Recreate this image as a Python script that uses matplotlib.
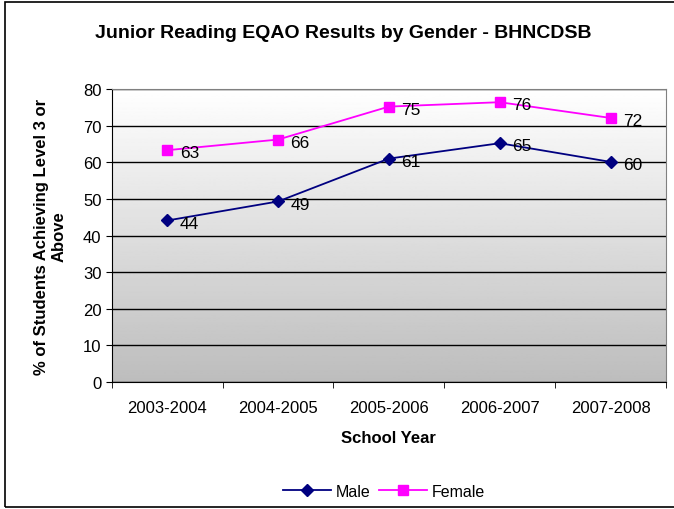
import numpy as np
import matplotlib.pyplot as plt
from matplotlib.patches import Rectangle

plt.rcParams['font.family'] = ['Liberation Sans', 'DejaVu Sans']

years = ["2003-2004", "2004-2005", "2005-2006", "2006-2007", "2007-2008"]
male = [44.1, 49.3, 61.0, 65.2, 60.1]
female = [63.3, 66.2, 75.2, 76.4, 72.1]

fig = plt.figure(figsize=(6.74, 5.10), dpi=100)
ax = fig.add_axes([0.166, 0.249, 0.822, 0.5745])

x = np.arange(len(years))

# background gradient like the Excel plot area
grad = np.linspace(1.0, 0.74, 256).reshape(-1, 1)
ax.imshow(grad, extent=[-0.5, 4.5, 0, 80], aspect='auto', cmap='gray',
          vmin=0, vmax=1, zorder=0, origin='upper')

ax.set_xlim(-0.5, 4.5)
ax.set_ylim(0, 80)
ax.set_yticks(range(0, 81, 10))
ax.yaxis.grid(True, color='black', linewidth=1)
ax.set_axisbelow(True)

ax.plot(x, male, color='#000080', marker='D', markersize=6, linewidth=1.3,
        label='Male', zorder=3)
ax.plot(x, female, color='#FF00FF', marker='s', markersize=7, linewidth=1.3,
        label='Female', zorder=3)

for xi, v in zip(x, male):
    ax.annotate(str(round(v)), (xi, v), xytext=(9, -2), textcoords='offset points',
                fontsize=12.5, va='center', ha='left')
for xi, v in zip(x, female):
    ax.annotate(str(round(v)), (xi, v), xytext=(9, -2), textcoords='offset points',
                fontsize=12.5, va='center', ha='left')

ax.set_xticks(x)
ax.set_xticklabels(years)
ax.set_xticks(np.arange(-0.5, 5, 1), minor=True)
ax.tick_params(axis='x', which='major', length=0, pad=13, labelsize=12)
ax.tick_params(axis='x', which='minor', length=4, direction='out')
ax.tick_params(axis='y', length=4, direction='out', labelsize=12)

for s in ['top', 'right']:
    ax.spines[s].set_color('#808080')
for s in ['left', 'bottom']:
    ax.spines[s].set_color('black')

ax.set_xlabel('School Year', fontsize=12, fontweight='bold', labelpad=11)
ax.set_ylabel('% of Students Achieving Level 3 or\nAbove', fontsize=12,
              fontweight='bold', labelpad=12)

fig.text(0.51, 0.935, 'Junior Reading EQAO Results by Gender - BHNCDSB',
         ha='center', va='center', fontsize=14, fontweight='bold')

ax.legend(loc='center', bbox_to_anchor=(0.57, 0.035), bbox_transform=fig.transFigure,
          ncol=2, frameon=False, fontsize=11.5, handlelength=3, columnspacing=0.5,
          handletextpad=0.3)

fig.patches.append(Rectangle((0.008, 0.004), 1.2, 0.99, transform=fig.transFigure,
                             fill=False, edgecolor='black', linewidth=1.2))

fig.savefig('out.png', dpi=100)
